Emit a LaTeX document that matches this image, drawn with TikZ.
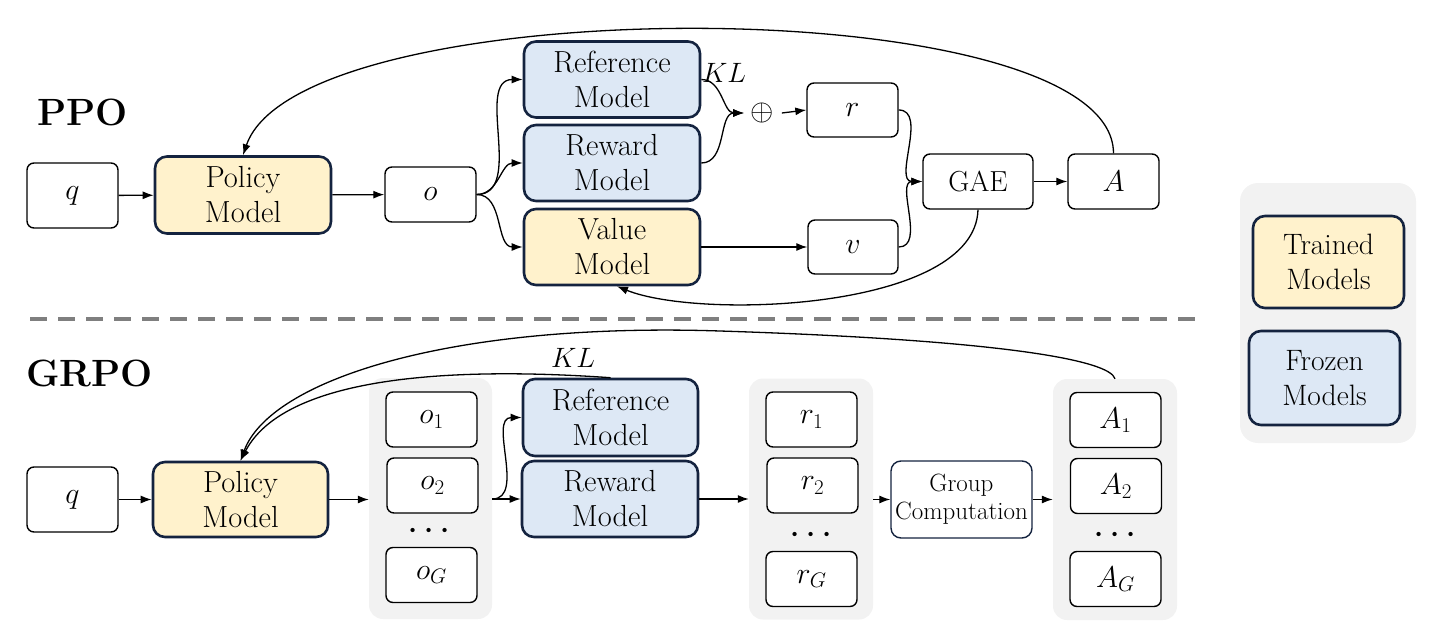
\RequirePackage{fix-cm}
\documentclass[tikz,border=0pt]{standalone}
\usetikzlibrary{arrows.meta}
\definecolor{navy}{HTML}{14233F}
\definecolor{cream}{HTML}{FFF2CC}
\definecolor{iceblue}{HTML}{DDE8F5}
\definecolor{panel}{HTML}{F2F2F2}
\definecolor{dashgray}{HTML}{7F7F7F}
\begin{document}
\begin{tikzpicture}[x=1pt,y=-1pt,
 box/.style={draw=black, line width=1.4pt, rounded corners=7pt, fill=white, minimum width=91pt, minimum height=55pt, inner sep=0pt, font=\fontsize{30}{36}\selectfont},
 model/.style={draw=navy, line width=2.6pt, rounded corners=12pt, minimum width=176pt, minimum height=76pt, inner sep=0pt, align=center, font=\fontsize{30.5}{35}\selectfont},
 trained/.style={model, fill=cream},
 frozen/.style={model, fill=iceblue},
 panelbox/.style={fill=panel, rounded corners=14pt, inner sep=0pt},
 conn/.style={line width=1.3pt, -{Latex[length=11pt,width=8pt]}},
 sectitle/.style={font=\fontsize{38}{44}\selectfont\bfseries, anchor=base west, inner sep=0pt},
 lbl/.style={font=\fontsize{28}{34}\selectfont, inner sep=0pt},
 dotsnode/.style={font=\fontsize{40}{40}\selectfont, inner sep=0pt}
]
\useasboundingbox (0,0) rectangle (1456,642);

% titles
\node[sectitle] (ppo) at (37,125) {PPO};
\node[sectitle] (grpo) at (26,386) {GRPO};

% separator
\draw[dashgray, line width=4pt, dash pattern=on 17pt off 11pt] (30,319) -- (1200,319);

% ---------- PPO ----------
\node[box, minimum height=65pt] (q1) at (72.5,195.5) {$q$};
\node[trained, minimum height=77pt] (pol1) at (243,195) {Policy\\Model};
\node[box] (o) at (430.5,194.5) {$o$};
\node[frozen] (ref1) at (612,79.5) {Reference\\Model};
\node[frozen] (rew1) at (612,163) {Reward\\Model};
\node[trained] (val) at (612,247) {Value\\Model};
\node[inner sep=0pt, font=\fontsize{30}{36}\selectfont] (plus) at (762,113) {$\oplus$};
\node[box, minimum height=54pt] (r) at (852.5,110) {$r$};
\node[box, minimum width=90pt, minimum height=54pt] (v) at (853,247) {$v$};
\node[box, minimum width=110pt, font=\fontsize{29}{34}\selectfont] (gae) at (978,181.5) {GAE};
\node[box] (A) at (1113.5,181.5) {$A$};
\node[lbl] (kl1) at (724,73) {$KL$};

\draw[conn] (q1) -- (pol1);
\draw[conn] (pol1) -- (o);
\draw[conn] (o.east) to[out=0,in=180] (ref1.west);
\draw[conn] (o.east) to[out=0,in=180] (rew1.west);
\draw[conn] (o.east) to[out=0,in=180] (val.west);
\draw[conn] (ref1.east) to[out=0,in=180] ([xshift=-6pt]plus.west);
\draw[conn] (rew1.east) to[out=0,in=180] ([xshift=-6pt]plus.west);
\draw[conn] ([xshift=8pt]plus.east) -- (r.west);
\draw[conn] (r.east) to[out=0,in=180] (gae.west);
\draw[conn] (v.east) to[out=0,in=180] (gae.west);
\draw[conn] (val) -- (v);
\draw[conn] (gae) -- (A);
\draw[conn] (gae.south) .. controls (975,310) and (700,320) .. ([xshift=5pt]val.south);
\draw[conn] (A.north) .. controls (1113,-12) and (300,-12) .. (pol1.north);

% ---------- GRPO ----------
\node[box, minimum height=65pt] (q2) at (72.5,499.5) {$q$};
\node[trained, minimum width=175pt, minimum height=75pt] (pol2) at (240.5,499.5) {Policy\\Model};

\node[panelbox, minimum width=123pt, minimum height=241pt] (og) at (430.5,498.5) {};
\node[box] (o1) at (431.5,419.5) {$o_1$};
\node[box] (o2) at (432.5,485.5) {$o_2$};
\node[dotsnode] (od) at (429,532) {$\cdot$\hspace{5pt}$\cdot$\hspace{5pt}$\cdot$};
\node[box] (oG) at (431.5,575) {$o_G$};

\node[frozen, minimum width=175pt, minimum height=77pt] (ref2) at (610.5,417.5) {Reference\\Model};
\node[frozen] (rew2) at (610,499) {Reward\\Model};
\node[lbl] (kl2) at (573,358) {$KL$};

\node[panelbox, minimum width=124pt, minimum height=241pt] (rg) at (811,499) {};
\node[box] (r1) at (811.5,419.5) {$r_1$};
\node[box] (r2) at (812.5,485.5) {$r_2$};
\node[dotsnode] (rd) at (811,536) {$\cdot$\hspace{5pt}$\cdot$\hspace{5pt}$\cdot$};
\node[box] (rG) at (811.5,579) {$r_G$};

\node[draw=navy, line width=1.4pt, rounded corners=10pt, fill=white, minimum width=141pt, minimum height=77pt, align=center, inner sep=0pt, font=\fontsize{25}{28}\selectfont] (gc) at (961.5,499.5) {Group\\Computation};

\node[panelbox, minimum width=124pt, minimum height=241pt] (ag) at (1115,499.5) {};
\node[box] (A1) at (1115.5,420) {$A_1$};
\node[box] (A2) at (1116,486) {$A_2$};
\node[dotsnode] (ad) at (1115,536) {$\cdot$\hspace{5pt}$\cdot$\hspace{5pt}$\cdot$};
\node[box] (AG) at (1115.5,579) {$A_G$};

\draw[conn] (q2) -- (pol2);
\draw[conn] (pol2.east) -- (pol2.east -| og.west);
\draw[conn] (og.east |- rew2) -- (rew2.west);
\draw[conn] (og.east |- rew2) to[out=0,in=180] (ref2.west);
\draw[conn] (rew2) -- (rew2 -| rg.west);
\draw[conn] (rg.east |- gc) -- (gc.west);
\draw[conn] (gc.east) -- (gc.east -| ag.west);
\draw[conn] (ref2.north) .. controls (500,370) and (290,365) .. (pol2.north);
\draw[conn] (ag.north) .. controls (1110,360) and (1000,340) .. (720,331) .. controls (450,322) and (270,380) .. (pol2.north);

% ---------- legend ----------
\node[panelbox, minimum width=176pt, minimum height=260pt, rounded corners=18pt] (leg) at (1328,313) {};
\node[trained, minimum width=151pt, minimum height=92pt, font=\fontsize{29.5}{35}\selectfont] (tr) at (1328.5,262) {Trained\\Models};
\node[frozen, minimum width=151pt, minimum height=94pt, font=\fontsize{29.5}{35}\selectfont] (fr) at (1324.5,378) {Frozen\\Models};
\end{tikzpicture}
\end{document}
